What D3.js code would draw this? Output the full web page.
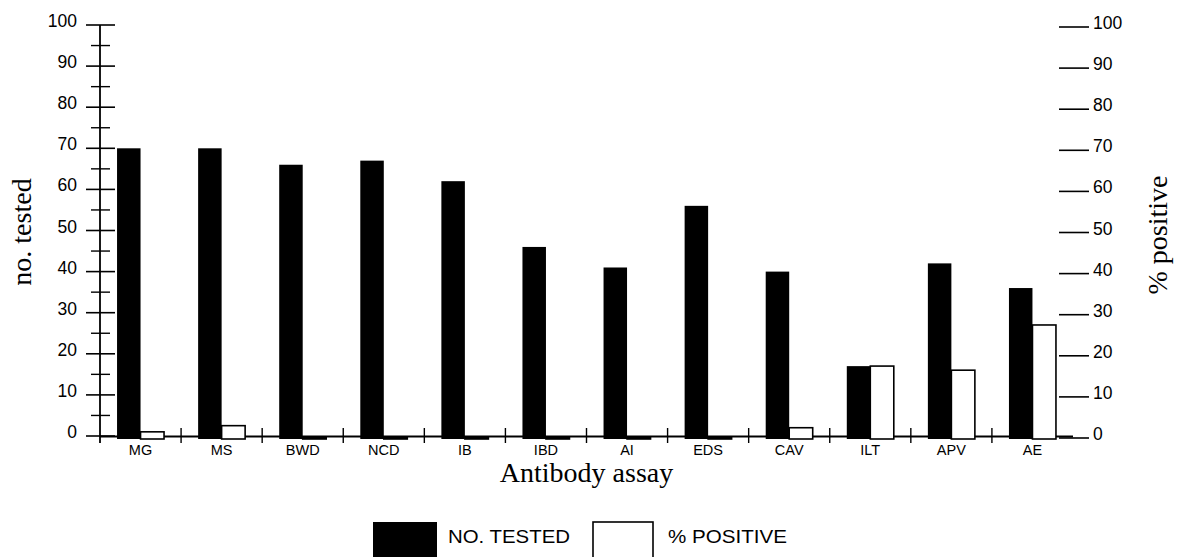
<!DOCTYPE html>
<html>
<head>
<meta charset="utf-8">
<script src="https://cdn.jsdelivr.net/npm/d3@7"></script>
<style>
html,body{margin:0;padding:0;background:#fff;}
svg{display:block;}
</style>
</head>
<body>
<svg id="chart" width="1179" height="557"></svg>
<script>
const categories = ["MG","MS","BWD","NCD","IB","IBD","AI","EDS","CAV","ILT","APV","AE"];
const noTested = [70,70,66,67,62,46,41,56,40,17,42,36];
const pctPositive = [1.5,3,0,0,0,0,0,0,2.5,17.5,16.5,27.5];
const leftTicks = [0,10,20,30,40,50,60,70,80,90,100];
const leftMinorTicks = [5,15,25,35,45,55,65,75,85,95];
const rightTicks = [0,10,20,30,40,50,60,70,80,90,100];
const legendLabels = ["NO. TESTED","% POSITIVE"];

const svg = d3.select("#chart");
const X0 = 100, X1 = 1073;
const x = d3.scaleBand().domain(categories).range([X0, X1]).paddingInner(0).paddingOuter(0);
const yL = d3.scaleLinear().domain([0,100]).range([436,25]);
const yR = d3.scaleLinear().domain([0,100]).range([438,27]);
const base = 439;
const sans = "Arial, 'Liberation Sans', Helvetica, sans-serif";
const serif = "'Times New Roman', 'Liberation Serif', Times, serif";

const bw = x.bandwidth();
const barW = 23.5;

// x axis line (drawn first, bars cover it)
svg.append("line").attr("x1", X0).attr("x2", X1).attr("y1", 436.5).attr("y2", 436.5)
  .attr("stroke","#000").attr("stroke-width",1.8);

// bars: no. tested (black)
svg.append("g").selectAll("rect").data(categories).join("rect")
  .attr("x", d => x(d) + bw/2 - barW)
  .attr("y", (d,i) => yL(noTested[i]))
  .attr("width", barW)
  .attr("height", (d,i) => base - yL(noTested[i]))
  .attr("fill", "#000");

// bars: % positive (white)
svg.append("g").selectAll("rect").data(categories).join("rect")
  .attr("x", d => x(d) + bw/2)
  .attr("y", (d,i) => Math.min(yR(pctPositive[i]), base - 1.5))
  .attr("width", barW)
  .attr("height", (d,i) => Math.max(base - yR(pctPositive[i]), 1.5))
  .attr("fill", "#fff")
  .attr("stroke", "#000")
  .attr("stroke-width", 1.6);

// category separator ticks
const seps = categories.slice(1).map(d => x(d));
svg.append("g").selectAll("line").data(seps).join("line")
  .attr("x1", d => d).attr("x2", d => d)
  .attr("y1", 428).attr("y2", 443)
  .attr("stroke","#000").attr("stroke-width",1.4);

// category labels
svg.append("g").selectAll("text").data(categories).join("text")
  .attr("x", d => x(d) + bw/2)
  .attr("y", 455)
  .attr("text-anchor","middle")
  .attr("font-family", sans).attr("font-size", 14.5)
  .text(d => d);

// left axis
const gL = svg.append("g");
gL.append("line").attr("x1",100).attr("x2",100).attr("y1",yL(100)).attr("y2",443)
  .attr("stroke","#000").attr("stroke-width",1.8);
gL.selectAll("line.maj").data(leftTicks).join("line").attr("class","maj")
  .attr("x1",86).attr("x2",115).attr("y1",d=>yL(d)).attr("y2",d=>yL(d))
  .attr("stroke","#000").attr("stroke-width",1.6);
gL.selectAll("line.min").data(leftMinorTicks).join("line").attr("class","min")
  .attr("x1",91).attr("x2",110).attr("y1",d=>yL(d)).attr("y2",d=>yL(d))
  .attr("stroke","#000").attr("stroke-width",1.4);
gL.selectAll("text").data(leftTicks).join("text")
  .attr("x",77).attr("y",d=>yL(d)+2)
  .attr("text-anchor","end")
  .attr("font-family",sans).attr("font-size",17.5)
  .text(d=>d);

// right axis
const gR = svg.append("g");
gR.append("line").attr("x1",1073).attr("x2",1073).attr("y1",yR(100)).attr("y2",445)
  .attr("stroke","#000").attr("stroke-width",1.8);
gR.selectAll("line").data(rightTicks).join("line")
  .attr("x1",1059).attr("x2",1089).attr("y1",d=>yR(d)).attr("y2",d=>yR(d))
  .attr("stroke","#000").attr("stroke-width",1.6);
gR.selectAll("text").data(rightTicks).join("text")
  .attr("x",1093).attr("y",d=>yR(d)+2)
  .attr("text-anchor","start")
  .attr("font-family",sans).attr("font-size",17.5)
  .text(d=>d);

// axis titles
svg.append("text").attr("x", (X0+X1)/2).attr("y", 482)
  .attr("text-anchor","middle").attr("font-family",serif).attr("font-size",28)
  .text("Antibody assay");
svg.append("text").attr("transform","translate(31,232) rotate(-90)")
  .attr("text-anchor","middle").attr("font-family",serif).attr("font-size",28)
  .text("no. tested");
svg.append("text").attr("transform","translate(1167,235) rotate(-90)")
  .attr("text-anchor","middle").attr("font-family",serif).attr("font-size",28)
  .text("% positive");

// legend
const lg = svg.append("g");
lg.append("rect").attr("x",373).attr("y",522).attr("width",64).attr("height",40).attr("fill","#000");
lg.append("text").attr("x",448).attr("y",543).attr("font-family",sans).attr("font-size",18)
  .attr("textLength",122).attr("lengthAdjust","spacingAndGlyphs")
  .text(legendLabels[0]);
lg.append("rect").attr("x",593).attr("y",522).attr("width",60).attr("height",40)
  .attr("fill","#fff").attr("stroke","#000").attr("stroke-width",1.6);
lg.append("text").attr("x",668).attr("y",543).attr("font-family",sans).attr("font-size",18)
  .attr("textLength",119).attr("lengthAdjust","spacingAndGlyphs")
  .text(legendLabels[1]);
</script>
</body>
</html>
